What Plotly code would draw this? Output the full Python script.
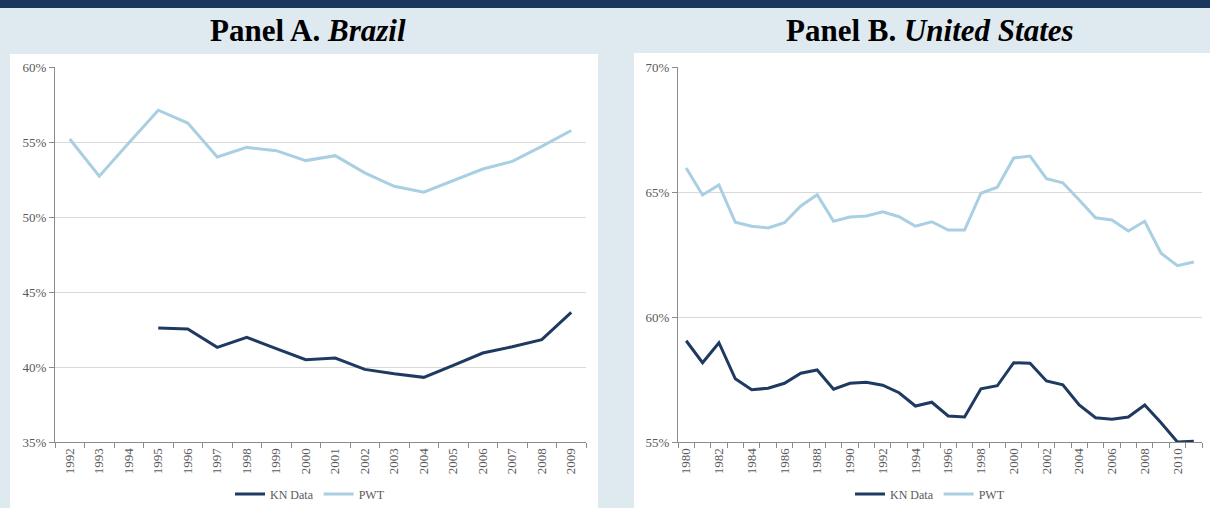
import plotly.graph_objects as go

# ---------------- data ----------------
brazil_years = list(range(1992, 2010))
brazil_pwt = [55.2, 52.72, 54.93, 57.12, 56.26, 54.0, 54.64, 54.42, 53.76, 54.09,
              52.94, 52.05, 51.66, 52.43, 53.2, 53.71, 54.71, 55.77]
brazil_kn_years = list(range(1995, 2010))
brazil_kn = [42.6, 42.53, 41.31, 41.98, 41.22, 40.49, 40.6, 39.84, 39.55, 39.31,
             40.11, 40.93, 41.35, 41.82, 43.64]

us_years = list(range(1980, 2012))
us_pwt = [65.96, 64.88, 65.28, 63.79, 63.63, 63.56, 63.77, 64.44, 64.89, 63.83,
          64.0, 64.04, 64.21, 64.01, 63.63, 63.81, 63.48, 63.48, 64.95, 65.19,
          66.36, 66.44, 65.53, 65.37, 64.68, 63.97, 63.88, 63.44, 63.83, 62.55,
          62.05, 62.2]
us_kn = [59.05, 58.17, 58.97, 57.53, 57.09, 57.15, 57.35, 57.75, 57.88, 57.11,
         57.35, 57.39, 57.27, 56.97, 56.44, 56.59, 56.04, 56.0, 57.13, 57.25,
         58.17, 58.15, 57.44, 57.29, 56.48, 55.97, 55.91, 56.0, 56.48, 55.77,
         55.0, 55.03]

series_names = ["KN Data", "PWT"]
panel_titles = ["Panel A. <i>Brazil</i>", "Panel B. <i>United States</i>"]
brazil_ticks = [35, 40, 45, 50, 55, 60]
us_ticks = [55, 60, 65, 70]

# ---------------- style ----------------
W, H = 1210, 508
BG = "#dfe9f0"
NAVY = "#1b365d"
KN_COLOR = "#1f3a60"
PWT_COLOR = "#a9cfe2"
TXT = "#595959"
FONT = "Liberation Serif"

def px_x(p):
    return p / W

def px_y(p):
    return 1 - p / H

fig = go.Figure()

# Panel A traces
fig.add_trace(go.Scatter(x=brazil_kn_years, y=brazil_kn, mode="lines", name=series_names[0],
                         line=dict(color=KN_COLOR, width=3), xaxis="x", yaxis="y", legend="legend"))
fig.add_trace(go.Scatter(x=brazil_years, y=brazil_pwt, mode="lines", name=series_names[1],
                         line=dict(color=PWT_COLOR, width=3), xaxis="x", yaxis="y", legend="legend"))
# Panel B traces
fig.add_trace(go.Scatter(x=us_years, y=us_kn, mode="lines", name=series_names[0],
                         line=dict(color=KN_COLOR, width=3), xaxis="x2", yaxis="y2", legend="legend2"))
fig.add_trace(go.Scatter(x=us_years, y=us_pwt, mode="lines", name=series_names[1],
                         line=dict(color=PWT_COLOR, width=3), xaxis="x2", yaxis="y2", legend="legend2"))

ydom = [px_y(442), px_y(67)]

common_x = dict(showgrid=False, zeroline=False, showline=True, linecolor="#8c8c8c", linewidth=1,
                ticks="", tickangle=-90, tickfont=dict(family=FONT, size=13, color=TXT),
                fixedrange=True)
minor_x = dict(ticks="outside", ticklen=5, tickcolor="#8c8c8c", dtick=1, showgrid=False)
common_y = dict(showgrid=True, gridcolor="#d9d9d9", gridwidth=1, zeroline=False, showline=True,
                linecolor="#8c8c8c", linewidth=1, ticks="outside", ticklen=5, tickcolor="#8c8c8c",
                tickfont=dict(family=FONT, size=13, color=TXT), fixedrange=True)

fig.update_layout(
    width=W, height=H,
    margin=dict(l=0, r=0, t=0, b=0, autoexpand=False),
    paper_bgcolor=BG,
    plot_bgcolor="white",
    xaxis=dict(domain=[px_x(55), px_x(586)], range=[brazil_years[0] - 0.5, brazil_years[-1] + 0.5],
               tickvals=brazil_years, ticktext=[str(y) for y in brazil_years],
               minor=dict(minor_x, tick0=brazil_years[0] - 0.5), anchor="y", **common_x),
    yaxis=dict(domain=ydom, range=[35, 60], tickvals=brazil_ticks,
               ticktext=[f"{t}%" for t in brazil_ticks], anchor="x", **common_y),
    xaxis2=dict(domain=[px_x(678), px_x(1202)], range=[us_years[0] - 0.5, us_years[-1] + 0.5],
                tickvals=us_years[::2], ticktext=[str(y) for y in us_years[::2]],
                minor=dict(minor_x, tick0=us_years[0] - 0.5), anchor="y2", **common_x),
    yaxis2=dict(domain=ydom, range=[55, 70], tickvals=us_ticks,
                ticktext=[f"{t}%" for t in us_ticks], anchor="x2", **common_y),
    legend=dict(orientation="h", x=px_x(310), xanchor="center", y=px_y(494), yanchor="middle",
                bgcolor="rgba(0,0,0,0)", font=dict(family=FONT, size=12, color=TXT),
                itemwidth=30, tracegroupgap=0),
    legend2=dict(orientation="h", x=px_x(930), xanchor="center", y=px_y(494), yanchor="middle",
                 bgcolor="rgba(0,0,0,0)", font=dict(family=FONT, size=12, color=TXT),
                 itemwidth=30, tracegroupgap=0),
    shapes=[
        dict(type="rect", xref="paper", yref="paper", x0=0, x1=1, y0=px_y(8), y1=1,
             fillcolor=NAVY, line=dict(width=0), layer="below"),
        dict(type="rect", xref="paper", yref="paper", x0=px_x(10), x1=px_x(598), y0=0, y1=px_y(54),
             fillcolor="white", line=dict(width=0), layer="below"),
        dict(type="rect", xref="paper", yref="paper", x0=px_x(634), x1=1, y0=0, y1=px_y(53),
             fillcolor="white", line=dict(width=0), layer="below"),
    ],
    annotations=[
        dict(text="<b>" + panel_titles[0] + "</b>", xref="paper", yref="paper", x=px_x(308), y=px_y(30),
             xanchor="center", yanchor="middle", showarrow=False,
             font=dict(family=FONT, size=31, color="black")),
        dict(text="<b>" + panel_titles[1] + "</b>", xref="paper", yref="paper", x=px_x(930), y=px_y(30),
             xanchor="center", yanchor="middle", showarrow=False,
             font=dict(family=FONT, size=31, color="black")),
    ],
)

fig.write_html("out.html", config={"displayModeBar": False},
               post_script="document.body.style.margin='0';document.body.style.overflow='hidden';")
